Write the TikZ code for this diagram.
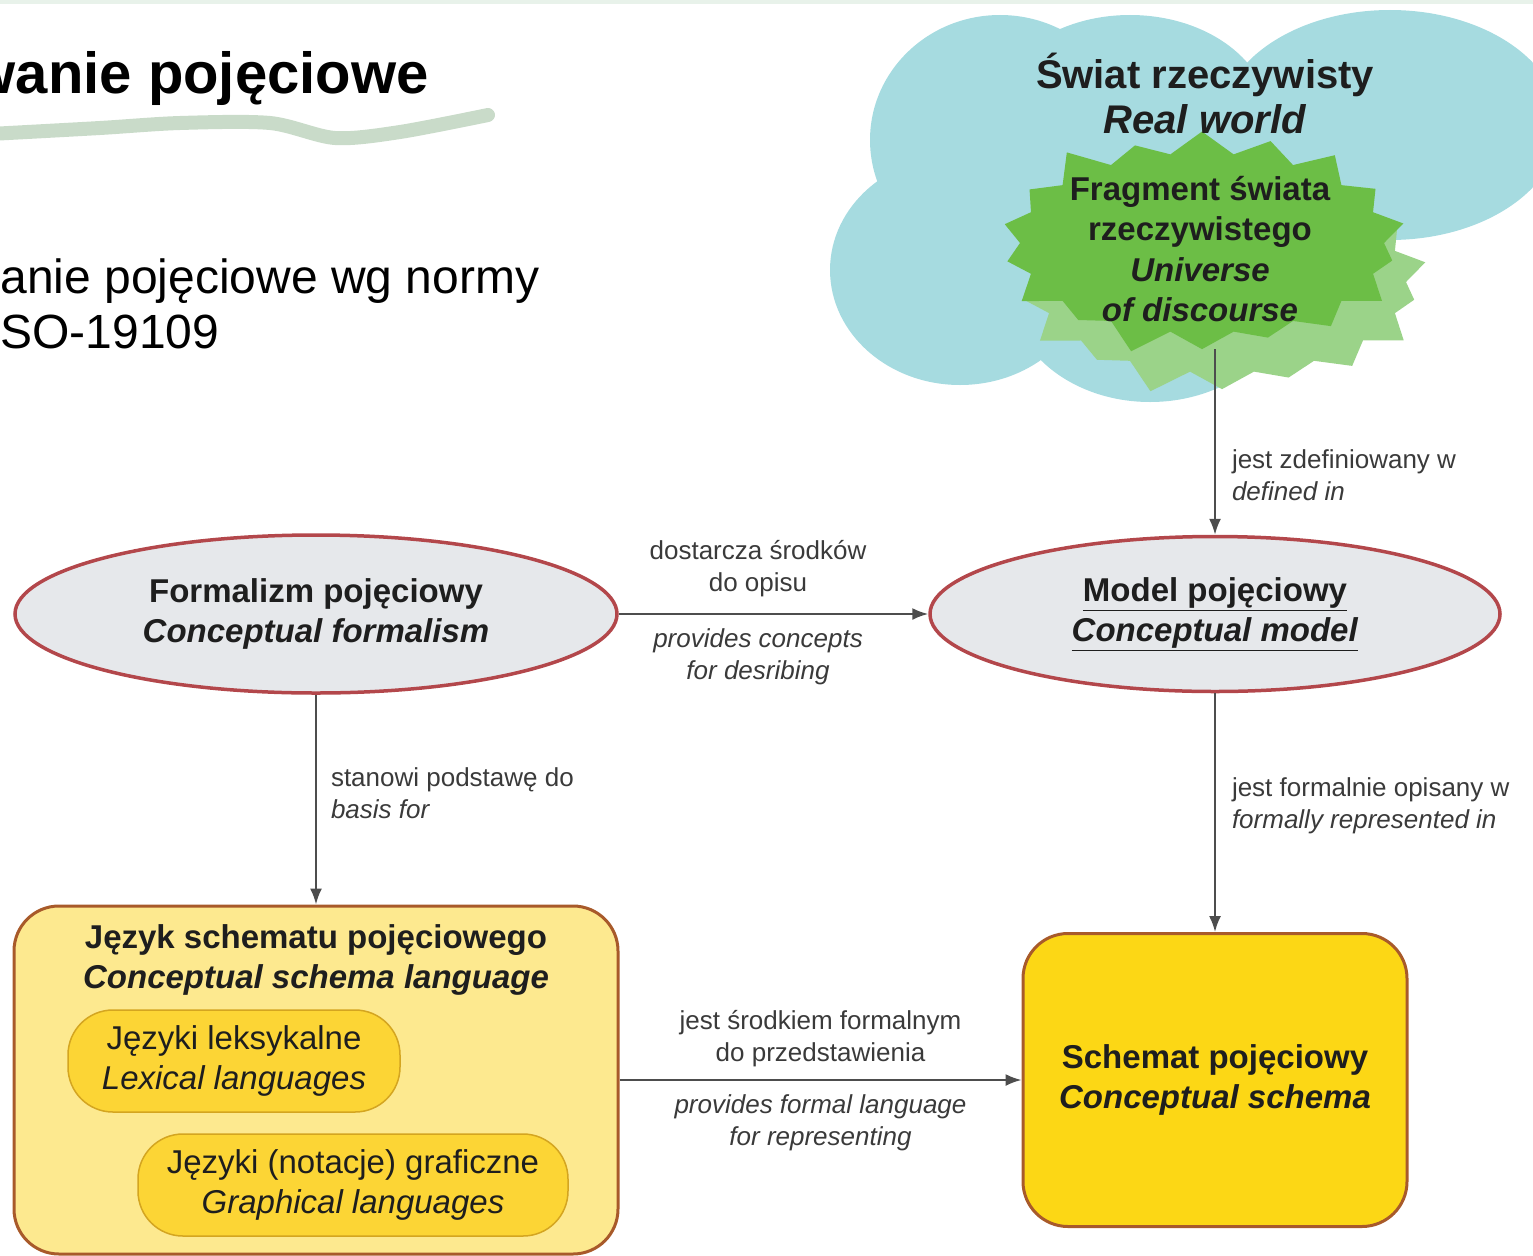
\documentclass[tikz,border=0pt]{standalone}
\usepackage{fontspec}
\setmainfont{Liberation Sans}
\usepackage{tikz}
\usetikzlibrary{shapes.geometric,shapes.symbols,arrows.meta,positioning}
\definecolor{topband}{HTML}{E8F2EA}
\definecolor{wavegreen}{HTML}{C9DBC9}
\definecolor{cloudblue}{HTML}{A6DBE0}
\definecolor{burstgreen}{HTML}{6CBE46}
\definecolor{burstpale}{HTML}{9BD389}
\definecolor{ellipsegray}{HTML}{E6E8EB}
\definecolor{ellipsered}{HTML}{B3474B}
\definecolor{boxpale}{HTML}{FDE98F}
\definecolor{boxstrong}{HTML}{FCD715}
\definecolor{pillfill}{HTML}{FCD535}
\definecolor{pillline}{HTML}{D4A520}
\definecolor{boxline}{HTML}{A85A2A}
\definecolor{linegray}{HTML}{4D4D4D}
\definecolor{labelgray}{HTML}{3A3A3A}
\definecolor{textdark}{HTML}{1E1E1E}

\begin{document}
\begin{tikzpicture}[x=1pt,y=-1pt,
    conn/.style={draw=linegray, line width=2pt, -{Latex[length=16pt,width=12pt]}},
    lbl/.style={text=labelgray, font=\fontsize{26}{32}\selectfont, align=center, inner sep=0pt},
    lbli/.style={lbl, font=\fontsize{26}{32}\selectfont\itshape},
    burst/.style={starburst, inner sep=0pt, starburst points=18, starburst point height=30pt},
    concept/.style={ellipse, draw=ellipsered, line width=3.5pt, fill=ellipsegray, text=textdark, align=center,
        font=\fontsize{33}{40}\selectfont\bfseries, inner sep=0pt},
    schemabox/.style={draw=boxline, line width=3pt, rounded corners=45pt, text=textdark, align=center,
        font=\fontsize{33}{40}\selectfont\bfseries, inner sep=0pt},
    pill/.style={draw=pillline, line width=1.5pt, fill=pillfill, rounded corners=45pt, text=textdark, align=center,
        font=\fontsize{33}{40}\selectfont, minimum height=102pt, inner sep=0pt}]
    \useasboundingbox (0,0) rectangle (1533,1255);
    \clip (0,0) rectangle (1533,1255);
    \fill[topband] (0,0) rectangle (1533,4);
    % Title
    \node[anchor=base east, font=\fontsize{58}{64}\selectfont\bfseries] (title) at (432,93) {wanie pojęciowe};
    \draw[wavegreen, line width=14pt, line cap=round] plot[smooth] coordinates {(-10,134) (100,128) (180,123) (270,123) (335,138) (400,132) (488,115)};
    \node[anchor=base west, font=\fontsize{48}{55}\selectfont] (subtitle) at (-3,293) {anie pojęciowe wg normy};
    \node[anchor=base west, font=\fontsize{48}{55}\selectfont] (subtitleb) at (-3,348) {SO-19109};
    % Cloud
    \fill[cloudblue] (1000,140) ellipse [x radius=130, y radius=125]
        (1130,120) ellipse [x radius=140, y radius=105]
        (1390,125) ellipse [x radius=170, y radius=115]
        (960,270) ellipse [x radius=130, y radius=115]
        (1150,290) ellipse [x radius=140, y radius=112]
        (1240,210) ellipse [x radius=120, y radius=100];
    \node[burst, fill=burstpale, minimum width=428pt, minimum height=242pt] (fragmentshadow) at (1222,282) {};
    \node[burst, fill=burstgreen, minimum width=424pt, minimum height=240pt] (fragment) at (1202,243) {};
    \node[text=textdark, align=center, font=\fontsize{33}{40.5}\selectfont\bfseries] (fragmenttext) at (1200,249) {Fragment świata\\rzeczywistego\\\textit{Universe}\\\textit{of discourse}};
    \node[text=textdark, align=center, font=\fontsize{40}{45}\selectfont\bfseries] (world) at (1205,93) {Świat rzeczywisty\\\textit{Real world}};
    % Concepts
    \node[concept, minimum width=602pt, minimum height=158pt] (formal) at (316,614) {Formalizm pojęciowy\\\textit{Conceptual formalism}};
    \node[concept, minimum width=570pt, minimum height=155pt] (model) at (1215,614) {\underline{Model pojęciowy}\\\underline{\textit{Conceptual model}}};
    % Schemas
    \node[schemabox, fill=boxpale, minimum width=604pt, minimum height=348pt] (schemalang) at (316,1080) {};
    \node[text=textdark, align=center, font=\fontsize{33}{40}\selectfont\bfseries] (schemalangtitle) at (316,960) {Język schematu pojęciowego\\\textit{Conceptual schema language}};
    \node[pill, minimum width=332pt] (lexical) at (234,1061) {Języki leksykalne\\\textit{Lexical languages}};
    \node[pill, minimum width=430pt] (graphical) at (353,1185) {Języki (notacje) graficzne\\\textit{Graphical languages}};
    \node[schemabox, fill=boxstrong, minimum width=384pt, minimum height=293pt] (schema) at (1215,1080) {Schemat pojęciowy\\\textit{Conceptual schema}};
    % Connectors
    \draw[conn] (fragment.south -| model) -- (model)
        node[lbl, right=16pt, pos=.68, align=left] {jest zdefiniowany w\\\textit{defined in}};
    \draw[conn] (formal) -- (model)
        node[lbl, above=16pt, pos=.45] {dostarcza środków\\do opisu}
        node[lbli, below=14pt, pos=.45] {provides concepts\\for desribing};
    \draw[conn] (formal) -- (schemalang)
        node[lbl, right=14pt, pos=.47, align=left] {stanowi podstawę do\\\textit{basis for}};
    \draw[conn] (model) -- (schema)
        node[lbl, right=16pt, pos=.47, align=left] {jest formalnie opisany w\\\textit{formally represented in}};
    \draw[conn] (schemalang) -- (schema)
        node[lbl, above=12pt, midway] {jest środkiem formalnym\\do przedstawienia}
        node[lbli, below=14pt, midway] {provides formal language\\for representing};
\end{tikzpicture}
\end{document}
